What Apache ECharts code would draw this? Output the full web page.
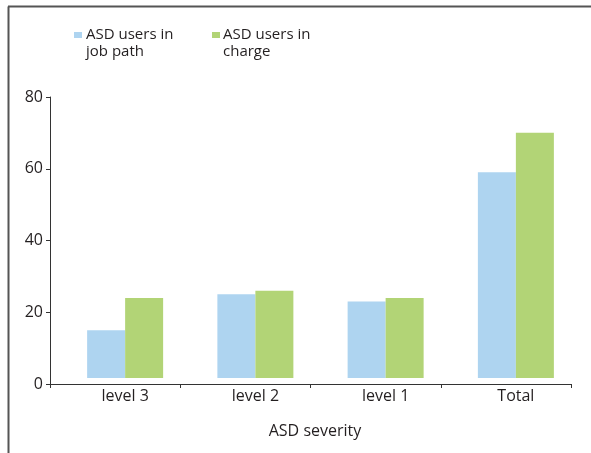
<!DOCTYPE html>
<html>
<head>
<meta charset="utf-8">
<script src="https://cdn.jsdelivr.net/npm/echarts@6/dist/echarts.min.js"></script>
<style>
  html, body { margin: 0; padding: 0; background: #fff; }
  #chart { width: 591px; height: 453px; }
</style>
</head>
<body>
<div id="chart"></div>
<script>
// data
var categories = ['level 3', 'level 2', 'level 1', 'Total'];
var jobPath = [15, 25, 23, 59];
var inCharge = [24, 26, 24, 70];
var yTicks = [0, 20, 40, 60, 80];
var seriesNames = ['ASD users in\njob path', 'ASD users in\ncharge'];

var textColor = '#231f20';
var fontFamily = '"Open Sans", sans-serif';
var blue = '#aed4f0';
var green = '#b2d476';

var myChart = echarts.init(document.getElementById('chart'), null, { renderer: 'canvas' });

myChart.setOption({
    animation: false,
    backgroundColor: '#fff',
    textStyle: { fontFamily: fontFamily, color: textColor },
    grid: [
        // axes with ticks
        { left: 50, right: 20, top: 97, bottom: 69 },
        // bars sit a little right and above the axis line
        { left: 60, right: 10, top: 97, bottom: 75 }
    ],
    xAxis: [
        {
            gridIndex: 0,
            type: 'category',
            data: categories,
            axisLine: { lineStyle: { color: '#333', width: 1 } },
            axisTick: { show: true, length: 4, lineStyle: { color: '#333' } },
            axisLabel: { show: false },
            name: 'ASD severity',
            nameLocation: 'middle',
            nameGap: 39,
            nameTextStyle: { fontSize: 16, color: textColor, fontFamily: fontFamily, padding: [0, 0, 0, 9] }
        },
        {
            gridIndex: 1,
            type: 'category',
            data: categories,
            axisLine: { show: false },
            axisTick: { show: false },
            axisLabel: { fontSize: 16, color: textColor, fontFamily: fontFamily, margin: 10 }
        }
    ],
    yAxis: [
        {
            gridIndex: 0,
            type: 'value',
            min: yTicks[0],
            max: yTicks[yTicks.length - 1],
            interval: 20,
            axisLine: { show: true, lineStyle: { color: '#333', width: 1 } },
            axisTick: { show: true, length: 4, lineStyle: { color: '#333' } },
            axisLabel: { fontSize: 16, color: textColor, fontFamily: fontFamily, margin: 7 },
            splitLine: { show: false }
        },
        {
            gridIndex: 1,
            type: 'value',
            min: 1.67,
            max: 80,
            show: false,
            splitLine: { show: false }
        }
    ],
    series: [
        {
            name: seriesNames[0],
            type: 'bar',
            xAxisIndex: 1,
            yAxisIndex: 1,
            data: jobPath,
            barWidth: 38,
            barGap: '0%',
            itemStyle: { color: blue }
        },
        {
            name: seriesNames[1],
            type: 'bar',
            xAxisIndex: 1,
            yAxisIndex: 1,
            data: inCharge,
            barWidth: 38,
            barGap: '0%',
            itemStyle: { color: green }
        }
    ],
    graphic: [
        // frame (left and top edges)
        { type: 'line', shape: { x1: 8.5, y1: 6.5, x2: 8.5, y2: 453 }, style: { stroke: '#555', lineWidth: 2 } },
        { type: 'line', shape: { x1: 8, y1: 6.5, x2: 591, y2: 6.5 }, style: { stroke: '#555', lineWidth: 2 } },
        // legend
        { type: 'rect', shape: { x: 74, y: 32, width: 8, height: 6 }, style: { fill: blue } },
        { type: 'text', x: 86, y: 26, style: { text: seriesNames[0], font: '15px ' + fontFamily, fill: textColor, lineHeight: 17 } },
        { type: 'rect', shape: { x: 212, y: 32, width: 8, height: 6 }, style: { fill: green } },
        { type: 'text', x: 223, y: 26, style: { text: seriesNames[1], font: '15px ' + fontFamily, fill: textColor, lineHeight: 17 } }
    ]
});
</script>
</body>
</html>
